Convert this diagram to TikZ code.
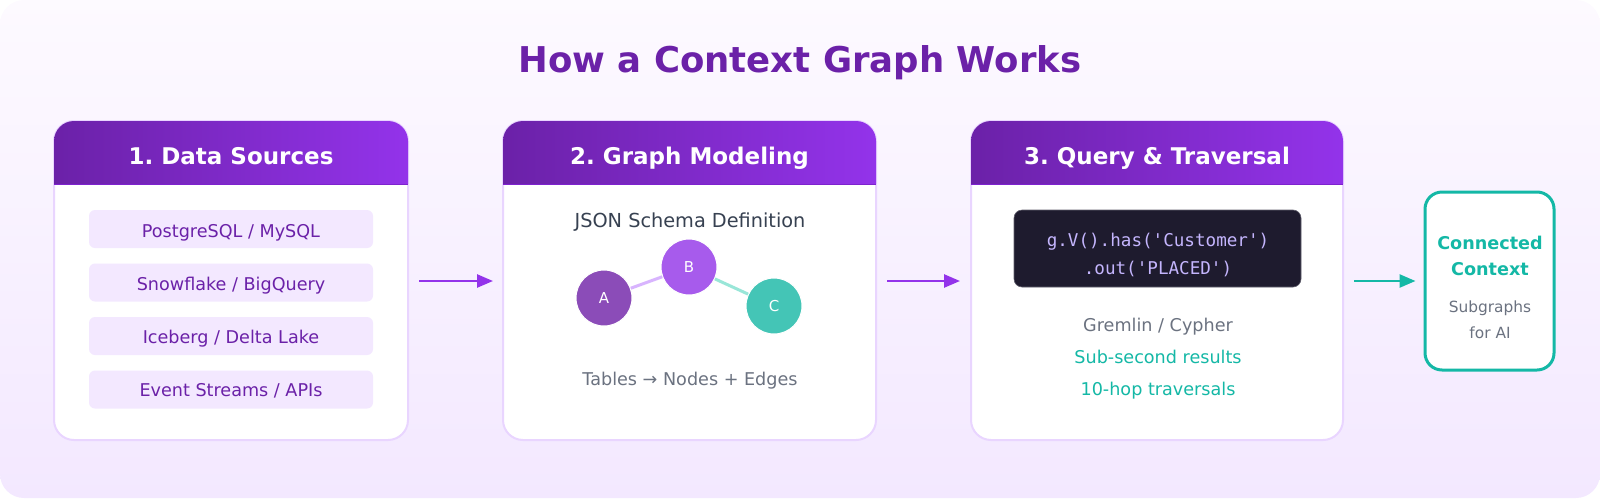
\documentclass[tikz,border=0pt]{standalone}
\usepackage{fontspec}
\setmainfont{DejaVu Sans}
\setmonofont{DejaVu Sans Mono}
\usetikzlibrary{arrows.meta,shapes.geometric}
\frenchspacing
\definecolor{bgtop}{HTML}{FDFAFF}
\definecolor{bgbot}{HTML}{F3E8FF}
\definecolor{ptitle}{HTML}{6B21A8}
\definecolor{hdrL}{HTML}{6B21A8}
\definecolor{hdrR}{HTML}{9333EA}
\definecolor{hdrline}{HTML}{7E22CE}
\definecolor{cardborder}{HTML}{E9D5FF}
\definecolor{itemfill}{HTML}{F3E8FF}
\definecolor{itemtext}{HTML}{6B21A8}
\definecolor{gray7}{HTML}{374151}
\definecolor{gray5}{HTML}{6B7280}
\definecolor{nodeA}{HTML}{8B4CB8}
\definecolor{nodeB}{HTML}{A75BEC}
\definecolor{nodeC}{HTML}{44C5B6}
\definecolor{edgeAB}{HTML}{D8B4FE}
\definecolor{edgeBC}{HTML}{99E6D8}
\definecolor{codebg}{HTML}{1E1B2E}
\definecolor{codetext}{HTML}{C4B5FD}
\definecolor{teal}{HTML}{14B8A6}
\definecolor{flowp}{HTML}{9333EA}
\tikzset{
  card/.style={draw=cardborder, line width=2pt, fill=white, rounded corners=20pt, inner sep=0pt},
  hdrtext/.style={anchor=base, inner sep=0pt, text=white, font=\fontsize{23}{26}\selectfont\bfseries},
  item/.style={fill=itemfill, rounded corners=6pt, minimum width=284pt, minimum height=38pt, inner sep=0pt},
  itemtext/.style={anchor=base, inner sep=0pt, text=itemtext, font=\fontsize{17.6}{20}\selectfont},
  gnode/.style={circle, draw=white, line width=1pt, minimum size=56pt, inner sep=0pt, text=white, font=\fontsize{15}{18}\selectfont},
  body/.style={anchor=base, font=\fontsize{17.6}{20}\selectfont, inner sep=0pt},
  flow/.style={-{Triangle[length=16pt,width=13pt]}, line width=2.5pt, draw=flowp},
}
\begin{document}
\begin{tikzpicture}[x=1pt,y=-1pt]
\useasboundingbox (0,0) rectangle (1600,498);
% background
\shade[top color=bgtop, bottom color=bgbot, rounded corners=24pt] (0,0) rectangle (1600,498);
% title
\node[anchor=base, inner sep=0pt, text=ptitle, font=\fontsize{35.5}{40}\selectfont\bfseries] (title) at (800,72) {How a Context Graph Works};

% ---- cards
\node[card, minimum width=354pt, minimum height=319pt] (card1) at (231,280.5) {};
\node[card, minimum width=373pt, minimum height=319pt] (card2) at (689.5,280.5) {};
\node[card, minimum width=372pt, minimum height=319pt] (card3) at (1157,280.5) {};

% headers
\shade[left color=hdrL, right color=hdrR] (54,184) {[rounded corners=20pt] -- (54,121) -- (408,121)} -- (408,184) -- cycle;
\draw[hdrline, line width=1pt] (54,184) -- (408,184);
\shade[left color=hdrL, right color=hdrR] (503,184) {[rounded corners=20pt] -- (503,121) -- (876,121)} -- (876,184) -- cycle;
\draw[hdrline, line width=1pt] (503,184) -- (876,184);
\shade[left color=hdrL, right color=hdrR] (971,184) {[rounded corners=20pt] -- (971,121) -- (1343,121)} -- (1343,184) -- cycle;
\draw[hdrline, line width=1pt] (971,184) -- (1343,184);

\node[hdrtext] (h1) at (231,164) {1. Data Sources};
\node[hdrtext] (h2) at (689.5,164) {2. Graph Modeling};
\node[hdrtext] (h3) at (1157,164) {3. Query \& Traversal};

% card 1 items
\node[item] (i1) at (231,229) {};
\node[item] (i2) at (231,282.5) {};
\node[item] (i3) at (231,336) {};
\node[item] (i4) at (231,389.5) {};
\node[itemtext] (t1) at (231,237.7) {PostgreSQL / MySQL};
\node[itemtext] (t2) at (231,290.5) {Snowflake / BigQuery};
\node[itemtext] (t3) at (231,343.5) {Iceberg / Delta Lake};
\node[itemtext] (t4) at (231,396.8) {Event Streams / APIs};

% card 2
\node[body, text=gray7, font=\fontsize{19.3}{22}\selectfont] (json) at (690,227.7) {JSON Schema Definition};
\node[gnode, fill=nodeA] (A) at (604,298) {A};
\node[gnode, fill=nodeB] (B) at (689,267) {B};
\node[gnode, fill=nodeC] (C) at (774,306) {C};
\draw[edgeAB, line width=3pt] (A) -- (B);
\draw[edgeBC, line width=3pt] (B) -- (C);
\node[body, text=gray5] (tables) at (690,385) {Tables → Nodes + Edges};

% card 3
\node[fill=codebg, draw=codebg!70!white, line width=0.6pt, rounded corners=8pt, minimum width=287pt, minimum height=77pt, inner sep=0pt] (code) at (1157.5,248.5) {};
\node[body, text=codetext, font=\ttfamily\fontsize{17.6}{20}\selectfont] (code1) at (1158,246) {g.V().has('Customer')};
\node[body, text=codetext, font=\ttfamily\fontsize{17.6}{20}\selectfont] (code2) at (1158,274) {.out('PLACED')};
\node[body, text=gray5] (g1) at (1158,331.7) {Gremlin / Cypher};
\node[body, text=teal] (g2) at (1158,363.3) {Sub-second results};
\node[body, text=teal] (g3) at (1158,395) {10-hop traversals};

% final box
\node[draw=teal, line width=3pt, fill=white, rounded corners=17pt, minimum width=129pt, minimum height=178pt, inner sep=0pt] (ctx) at (1489.5,281) {};
\node[body, text=teal, font=\fontsize{17.6}{20}\selectfont\bfseries] (ctx1) at (1490,249) {Connected};
\node[body, text=teal, font=\fontsize{17.6}{20}\selectfont\bfseries] (ctx2) at (1490,275.3) {Context};
\node[body, text=gray5, font=\fontsize{15.4}{18}\selectfont] (ctx3) at (1490,312.7) {Subgraphs};
\node[body, text=gray5, font=\fontsize{15.4}{18}\selectfont] (ctx4) at (1490,338) {for AI};

% arrows
\draw[flow] ([xshift=10pt,yshift=-0.5pt]card1.east) -- ([xshift=-9pt,yshift=-0.5pt]card2.west);
\draw[flow] ([xshift=10pt,yshift=-0.5pt]card2.east) -- ([xshift=-10pt,yshift=-0.5pt]card3.west);
\draw[flow, draw=teal] ([xshift=10pt,yshift=-0.5pt]card3.east) -- ([xshift=-8pt]ctx.west);
\end{tikzpicture}
\end{document}
